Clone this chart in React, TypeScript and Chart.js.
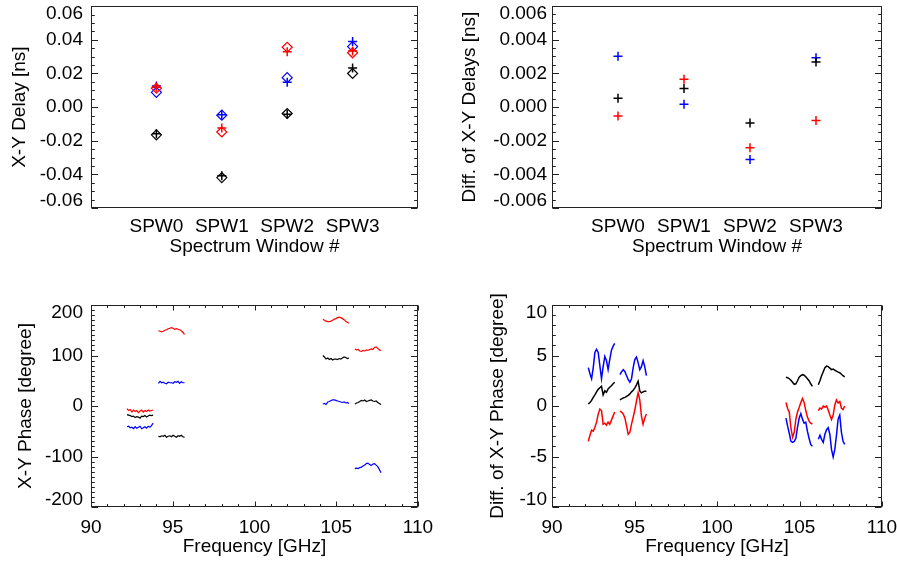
import React, { useEffect, useRef } from 'react';
import { Chart, registerables } from 'chart.js';

Chart.register(...registerables);

const FONT = '"Liberation Sans", Arial, Helvetica, sans-serif';
const FS = 19;
const BLACK = '#000000';
const RED = '#ff0000';
const BLUE = '#0000ff';

// ---------- Top panels: spectral windows ----------
const SPW_LABELS = ['SPW0', 'SPW1', 'SPW2', 'SPW3'];

const DELAY_DIAMOND_BLACK = [-0.0165, -0.0419, -0.0038, 0.02];
const DELAY_PLUS_BLACK = [-0.0158, -0.0408, -0.0043, 0.0232];
const DELAY_DIAMOND_RED = [0.0112, -0.0148, 0.0356, 0.0323];
const DELAY_PLUS_RED = [0.0118, -0.0125, 0.0329, 0.0333];
const DELAY_DIAMOND_BLUE = [0.0088, -0.0048, 0.0175, 0.036];
const DELAY_PLUS_BLUE = [0.0125, -0.0046, 0.0148, 0.039];

const DDIFF_BLACK = [0.00052, 0.0011, -0.00095, 0.00268];
const DDIFF_RED = [-0.00053, 0.00165, -0.00242, -0.0008];
const DDIFF_BLUE = [0.00302, 0.00016, -0.00312, 0.00293];

// ---------- Bottom panels: frequency ----------
const FREQ_S1 = [92.2, 92.3, 92.4, 92.5, 92.6, 92.7, 92.8, 92.9, 93.0, 93.1, 93.2, 93.3, 93.4, 93.5, 93.6, 93.7, 93.8];
const FREQ_S2 = [94.12, 94.22, 94.32, 94.42, 94.52, 94.62, 94.72, 94.82, 94.92, 95.02, 95.12, 95.22, 95.32, 95.42, 95.52, 95.62, 95.72];
const FREQ_S3 = [104.18, 104.28, 104.38, 104.48, 104.58, 104.68, 104.78, 104.88, 104.98, 105.08, 105.18, 105.28, 105.38, 105.48, 105.58, 105.68, 105.78];
const FREQ_S4 = [106.14, 106.24, 106.34, 106.44, 106.54, 106.64, 106.74, 106.84, 106.94, 107.04, 107.14, 107.24, 107.34, 107.44, 107.54, 107.64, 107.74];
const FREQS = [FREQ_S1, FREQ_S2, FREQ_S3, FREQ_S4];

const PHASE_RED = [
  [-5, -9, -7, -12, -8, -11, -9, -13, -10, -8, -12, -9, -11, -8, -10, -9, -8],
  [149, 148, 147, 148, 150, 151, 153, 154, 155, 154, 152, 153, 152, 151, 149, 146, 142],
  [172, 170, 168, 167, 167, 168, 170, 172, 173, 175, 176, 175, 173, 171, 168, 166, 164],
  [113, 111, 112, 109, 108, 110, 109, 111, 110, 112, 113, 112, 116, 117, 114, 111, 110],
];
const PHASE_BLACK = [
  [-17, -18, -19, -21, -20, -23, -21, -22, -24, -20, -21, -19, -22, -20, -18, -19, -18],
  [-60, -61, -59, -60, -58, -62, -60, -59, -61, -58, -60, -62, -59, -60, -58, -61, -62],
  [100, 97, 93, 95, 92, 94, 91, 93, 93, 92, 94, 93, 95, 97, 96, 94, 95],
  [4, 6, 7, 9, 11, 10, 12, 9, 10, 11, 12, 10, 9, 10, 7, 5, 3],
];
const PHASE_BLUE = [
  [-41, -40, -43, -42, -45, -41, -44, -42, -40, -45, -43, -41, -44, -40, -42, -39, -34],
  [45, 49, 46, 47, 45, 44, 47, 46, 46, 45, 48, 47, 49, 45, 48, 46, 46],
  [4, 5, 3, 8, 9, 11, 12, 12, 11, 10, 9, 8, 7, 8, 6, 7, 5],
  [-124, -123, -124, -122, -121, -119, -117, -114, -113, -116, -118, -115, -114, -117, -120, -126, -132],
];

const PDIFF_BLUE = [
  [3.8, 3.2, 2.7, 3.8, 5.3, 5.6, 5.3, 4.0, 2.7, 3.9, 4.9, 4.5, 3.6, 4.6, 5.5, 5.9, 6.2],
  [3.1, 3.4, 3.6, 3.4, 3.0, 2.6, 2.35, 2.7, 3.8, 4.6, 4.85, 4.3, 3.6, 3.9, 4.5, 3.9, 3.0],
  [-1.2, -2.0, -2.7, -3.5, -3.6, -3.5, -3.2, -2.1, -1.2, -0.75, -1.3, -1.7, -1.6, -2.5, -3.2, -3.8, -4.0],
  [-3.3, -2.9, -3.3, -3.6, -2.8, -2.35, -2.15, -2.8, -4.3, -5.05, -4.3, -2.9, -1.3, -0.9, -2.6, -3.5, -3.8],
];
const PDIFF_BLACK = [
  [0.2, 0.35, 0.55, 0.85, 1.1, 1.4, 1.65, 1.8, 1.95, 1.1, 1.5, 1.35, 1.7, 1.85, 2.0, 2.2, 2.35],
  [0.6, 0.7, 0.8, 0.85, 0.95, 1.05, 1.2, 1.4, 1.55, 1.8, 2.1, 2.45, 1.5, 1.3, 1.4, 1.45, 1.45],
  [2.85, 2.8, 2.7, 2.55, 2.35, 2.15, 2.2, 2.5, 2.85, 3.0, 3.1, 3.05, 2.9, 2.7, 2.5, 2.2, 1.95],
  [2.1, 2.5, 3.0, 3.4, 3.8, 3.95, 3.9, 3.75, 3.6, 3.65, 3.55, 3.45, 3.35, 3.3, 3.15, 3.0, 2.88],
];
const PDIFF_RED = [
  [-3.5, -2.9, -2.4, -2.5, -2.1, -1.6, -0.8, -0.3, -0.45, -1.8, -1.7, -1.9, -1.6, -1.8, -1.4, -1.0, -0.6],
  [-0.5, -0.6, -0.8, -1.2, -2.0, -2.8, -2.6, -1.8, -1.1, -0.4, 0.5, 1.3, 0.6, -1.0, -1.8, -1.2, -0.8],
  [0.35, -0.25, -0.6, -2.2, -3.1, -2.6, -1.3, -0.6, -0.15, 0.35, 0.75, 0.35, -0.45, -1.1, -1.5, -1.7, -1.8],
  [-0.45, -0.2, -0.3, 0.0, -0.1, 0.0, -0.4, -0.9, -1.35, -0.9, 0.1, 0.6, 0.3, 0.45, -0.2, -0.35, 0.0],
];

// ---------- frame plugin (IDL-style box with inward ticks) ----------
const framePlugin = {
  id: 'idlFrame',
  afterDraw(chart: any, _args: any, opts: any) {
    const { ctx, chartArea } = chart;
    const xs = chart.scales.x;
    const ys = chart.scales.y;
    const L = Math.round(chartArea.left) + 0.5;
    const R = Math.round(chartArea.right) - 0.5;
    const T = Math.round(chartArea.top) + 0.5;
    const B = Math.round(chartArea.bottom) - 0.5;
    const isMult = (v: number, step: number) => Math.abs(v / step - Math.round(v / step)) < 1e-6;
    ctx.save();
    ctx.strokeStyle = '#222';
    ctx.lineWidth = 1;
    ctx.beginPath();
    if (opts.yMinor) {
      const n = Math.round((ys.max - ys.min) / opts.yMinor);
      for (let i = 0; i <= n; i++) {
        const v = ys.min + i * opts.yMinor;
        const py = Math.round(ys.getPixelForValue(v)) + 0.5;
        const len = isMult(v, opts.yMajor) ? opts.yMajLen : opts.yMinLen;
        ctx.moveTo(L, py); ctx.lineTo(L + len, py);
        ctx.moveTo(R, py); ctx.lineTo(R - len, py);
      }
    }
    if (opts.xMinor) {
      const n = Math.round((xs.max - xs.min) / opts.xMinor);
      for (let i = 0; i <= n; i++) {
        const v = xs.min + i * opts.xMinor;
        const px = Math.round(xs.getPixelForValue(v)) + 0.5;
        const len = isMult(v, opts.xMajor) ? opts.xMajLen : opts.xMinLen;
        ctx.moveTo(px, B); ctx.lineTo(px, B - len);
        ctx.moveTo(px, T); ctx.lineTo(px, T + len);
      }
    }
    ctx.stroke();
    ctx.strokeRect(L, T, R - L, B - T);
    ctx.restore();
  },
};

type Panel = {
  x: number; y: number; w: number; h: number;
  left: number; top: number; right: number; bottom: number;
  yTickPad: number; yTitlePad: number; xTickPad: number; xTitlePad: number;
};

function yTickLabel(min: number, max: number, fmt: (v: number) => string) {
  return (v: any) => {
    const s = fmt(Number(v));
    if (Math.abs(v - max) < 1e-9) return ['', s];
    if (Math.abs(v - min) < 1e-9) return [s, ''];
    return s;
  };
}

function makeOptions(p: Panel, xs: any, yscale: any, frame: any) {
  return {
    responsive: false,
    maintainAspectRatio: false,
    animation: false,
    devicePixelRatio: 1,
    events: [],
    layout: { padding: { left: 0, top: p.top, right: p.w - p.right, bottom: 0 } },
    plugins: {
      legend: { display: false },
      tooltip: { enabled: false },
      idlFrame: frame,
    },
    scales: {
      x: {
        type: 'linear',
        position: 'bottom',
        grid: { display: false, drawTicks: false },
        border: { display: false },
        ...xs,
        ticks: {
          color: BLACK,
          font: { family: FONT, size: FS },
          padding: p.xTickPad,
          autoSkip: false,
          maxRotation: 0,
          minRotation: 0,
          ...xs.ticks,
        },
        title: {
          display: true,
          text: xs.titleText,
          color: BLACK,
          font: { family: FONT, size: FS },
          padding: { top: 0, bottom: p.xTitlePad },
        },
        afterFit: (s: any) => {
          s.height = p.h - p.bottom;
          s.paddingLeft = 0; s.paddingRight = 0; s.paddingTop = 0; s.paddingBottom = 0;
        },
      },
      y: {
        type: 'linear',
        position: 'left',
        grid: { display: false, drawTicks: false },
        border: { display: false },
        min: yscale.min,
        max: yscale.max,
        ticks: {
          color: BLACK,
          font: { family: FONT, size: FS, lineHeight: '15px' },
          padding: p.yTickPad,
          stepSize: yscale.step,
          autoSkip: false,
          callback: yTickLabel(yscale.min, yscale.max, yscale.fmt),
        },
        title: {
          display: true,
          text: yscale.titleText,
          color: BLACK,
          font: { family: FONT, size: FS },
          padding: { top: p.yTitlePad, bottom: 0 },
        },
        afterFit: (s: any) => {
          s.width = p.left;
          s.paddingLeft = 0; s.paddingRight = 0; s.paddingTop = 0; s.paddingBottom = 0;
        },
      },
    },
  };
}

const spwX = {
  min: -1,
  max: 4,
  titleText: 'Spectrum Window #',
  afterBuildTicks: (s: any) => {
    s.ticks = SPW_LABELS.map((_, i) => ({ value: i }));
  },
  ticks: { callback: (v: any) => SPW_LABELS[Number(v)] ?? '' },
};

const freqX = {
  min: 90,
  max: 110,
  titleText: 'Frequency [GHz]',
  ticks: { stepSize: 5, callback: (v: any) => String(Math.round(Number(v))) },
};

function pts(vals: number[]) {
  return vals.map((v, i) => ({ x: i, y: v }));
}

function markerSet(vals: number[], color: string, kind: 'diamond' | 'plus') {
  return {
    data: pts(vals),
    showLine: false,
    borderColor: color,
    pointBorderColor: color,
    backgroundColor: 'rgba(0,0,0,0)',
    pointBackgroundColor: 'rgba(0,0,0,0)',
    pointStyle: kind === 'diamond' ? 'rectRot' : 'cross',
    pointRadius: kind === 'diamond' ? 5 : 4.5,
    pointBorderWidth: kind === 'diamond' ? 1.2 : 1.5,
  };
}

function lineSets(segs: number[][], color: string, width: number) {
  return segs.map((seg, k) => ({
    data: seg.map((v, i) => ({ x: FREQS[k][i], y: v })),
    showLine: true,
    borderColor: color,
    borderWidth: width,
    pointRadius: 0,
    tension: 0,
    fill: false,
  }));
}

const PANELS: { p: Panel; build: () => any }[] = [
  {
    p: { x: 0, y: 0, w: 450, h: 283, left: 91, top: 5, right: 418, bottom: 208, yTickPad: 8, yTitlePad: 8.6, xTickPad: 7.3, xTitlePad: 24.6 },
    build: () => ({
      datasets: [
        markerSet(DELAY_DIAMOND_BLACK, BLACK, 'diamond'),
        markerSet(DELAY_PLUS_BLACK, BLACK, 'plus'),
        markerSet(DELAY_DIAMOND_RED, RED, 'diamond'),
        markerSet(DELAY_PLUS_RED, RED, 'plus'),
        markerSet(DELAY_DIAMOND_BLUE, BLUE, 'diamond'),
        markerSet(DELAY_PLUS_BLUE, BLUE, 'plus'),
      ],
    }),
  },
  {
    p: { x: 450, y: 0, w: 447, h: 283, left: 102, top: 5, right: 432, bottom: 208, yTickPad: 5, yTitlePad: 8.6, xTickPad: 7.3, xTitlePad: 24.6 },
    build: () => ({
      datasets: [
        markerSet(DDIFF_BLACK, BLACK, 'plus'),
        markerSet(DDIFF_RED, RED, 'plus'),
        markerSet(DDIFF_BLUE, BLUE, 'plus'),
      ],
    }),
  },
  {
    p: { x: 0, y: 283, w: 450, h: 283, left: 91, top: 22, right: 418, bottom: 224, yTickPad: 8, yTitlePad: 13.9, xTickPad: 8.9, xTitlePad: 7.9 },
    build: () => ({
      datasets: [
        ...lineSets(PHASE_RED, RED, 1.2),
        ...lineSets(PHASE_BLACK, BLACK, 1.2),
        ...lineSets(PHASE_BLUE, BLUE, 1.2),
      ],
    }),
  },
  {
    p: { x: 450, y: 283, w: 447, h: 283, left: 102, top: 22, right: 432, bottom: 224, yTickPad: 5, yTitlePad: 36.1, xTickPad: 8.9, xTitlePad: 7.9 },
    build: () => ({
      datasets: [
        ...lineSets(PDIFF_BLUE, BLUE, 1.5),
        ...lineSets(PDIFF_BLACK, BLACK, 1.5),
        ...lineSets(PDIFF_RED, RED, 1.5),
      ],
    }),
  },
];

const Y_SCALES = [
  { min: -0.06, max: 0.06, step: 0.02, fmt: (v: number) => v.toFixed(2), titleText: 'X-Y Delay [ns]' },
  { min: -0.006, max: 0.006, step: 0.002, fmt: (v: number) => v.toFixed(3), titleText: 'Diff. of X-Y Delays [ns]' },
  { min: -200, max: 200, step: 100, fmt: (v: number) => String(Math.round(v)), titleText: 'X-Y Phase [degree]' },
  { min: -10, max: 10, step: 5, fmt: (v: number) => String(Math.round(v)), titleText: 'Diff. of X-Y Phase [degree]' },
];

const FRAMES = [
  { yMajor: 0.02, yMinor: 0.005, yMajLen: 6.5, yMinLen: 3.3, xMinor: 0 },
  { yMajor: 0.002, yMinor: 0.0005, yMajLen: 6.5, yMinLen: 3.3, xMinor: 0 },
  { yMajor: 100, yMinor: 10, yMajLen: 6.5, yMinLen: 3.3, xMajor: 5, xMinor: 1, xMajLen: 5, xMinLen: 2.5 },
  { yMajor: 5, yMinor: 1, yMajLen: 6.5, yMinLen: 3.3, xMajor: 5, xMinor: 1, xMajLen: 5, xMinLen: 2.5 },
];

function ChartPanel({ index }: { index: number }) {
  const ref = useRef<HTMLCanvasElement>(null);
  const { p, build } = PANELS[index];
  useEffect(() => {
    const xs = index < 2 ? spwX : freqX;
    const chart = new Chart(ref.current as HTMLCanvasElement, {
      type: 'scatter',
      data: build(),
      options: makeOptions(p, xs, Y_SCALES[index], FRAMES[index]) as any,
      plugins: [framePlugin],
    } as any);
    return () => chart.destroy();
  }, []);
  return (
    <canvas
      ref={ref}
      width={p.w}
      height={p.h}
      style={{ position: 'absolute', left: p.x, top: p.y, width: p.w, height: p.h, display: 'block' }}
    />
  );
}

export default function App() {
  return (
    <div style={{ position: 'absolute', left: 0, top: 0, width: 897, height: 566, background: '#ffffff', overflow: 'hidden' }}>
      {PANELS.map((_, i) => (
        <ChartPanel key={i} index={i} />
      ))}
    </div>
  );
}
